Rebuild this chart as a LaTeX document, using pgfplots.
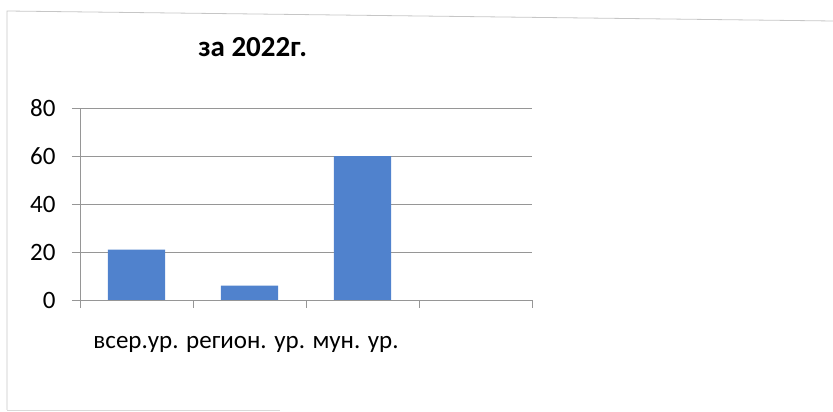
\documentclass[border=0pt]{standalone}
\usepackage{fontspec}
\setmainfont{Carlito}
\usepackage{pgfplots}
\pgfplotsset{compat=1.18}
\definecolor{barblue}{RGB}{80,130,205}
\definecolor{gridgray}{RGB}{150,150,150}
\begin{document}
\begin{tikzpicture}[x=1pt,y=1pt]
\useasboundingbox (0,0) rectangle (833,412);
% outer chart frame
\draw[gray!45, line width=0.8pt] (7,2) -- (7,401) -- (833,391);
\draw[gray!30, line width=0.8pt] (7,2) -- (280,2);
\begin{axis}[
  at={(80pt,112pt)}, anchor=south west,
  scale only axis, width=452pt, height=192pt,
  xmin=0.5, xmax=4.5, ymin=0, ymax=80,
  ytick={0,20,...,80},
  xtick={0.5,1.5,2.5,3.5,4.5}, xticklabels={},
  axis x line*=bottom, axis y line*=left,
  axis line style={gridgray, line width=0.7pt},
  tick style={gridgray, line width=0.7pt},
  major tick length=8pt,
  tick align=outside,
  ymajorgrids, grid style={gridgray, line width=0.7pt},
  /pgf/number format/assume math mode=true,
  yticklabel style={font=\fontsize{25}{29}\selectfont, xshift=-13pt},
  title={за 2022г.},
  title style={font=\fontsize{29}{33}\selectfont\bfseries, at={(axis description cs:0.382,1.235)}, anchor=base},
  xlabel={всер.ур. регион. ур. мун. ур.},
  xlabel style={font=\fontsize{25}{29}\selectfont, at={(axis description cs:0.022,-0.255)}, anchor=base west},
  ybar, bar width=57pt,
]
\addplot[fill=barblue, draw=none] coordinates {(1,21) (2,6) (3,60)};
\end{axis}
\end{tikzpicture}
\end{document}
